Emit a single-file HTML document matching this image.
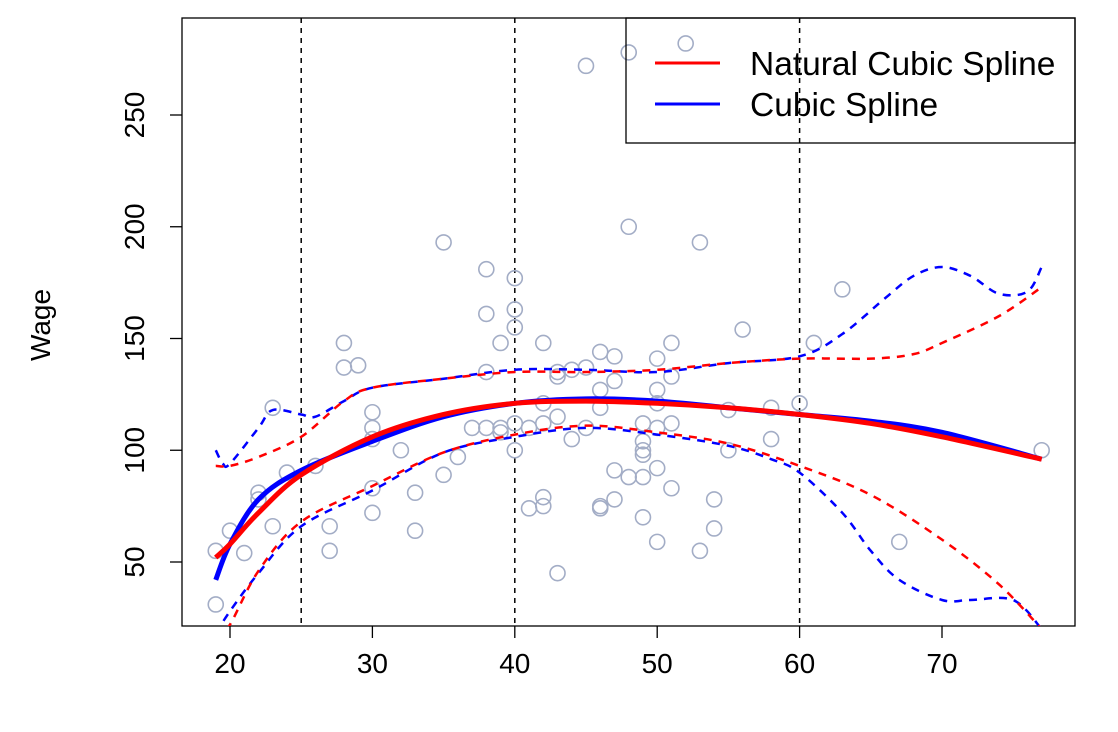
<!DOCTYPE html>
<html><head><meta charset="utf-8"><style>body{margin:0;background:#fff}svg{display:block;font-family:"Liberation Sans",sans-serif}</style></head>
<body>
<svg id="chart" width="1118" height="732">
<defs><clipPath id="clip"><rect x="182" y="18" width="893" height="608"/></clipPath></defs>
<rect x="182" y="18" width="893" height="608" fill="none" stroke="#000" stroke-width="1.3"/>
<g id="ax"></g><g id="pts" clip-path="url(#clip)"></g><g id="lines" clip-path="url(#clip)"></g>
<text transform="translate(50,325) rotate(-90)" text-anchor="middle" font-size="28">Wage</text>
<g>
<rect x="626" y="18" width="449" height="125" fill="none" stroke="#000" stroke-width="1.3"/>
<line x1="655" y1="63" x2="720" y2="63" stroke="#f00" stroke-width="3"/>
<text x="750" y="75" font-size="33.5">Natural Cubic Spline</text>
<line x1="655" y1="104" x2="720" y2="104" stroke="#00f" stroke-width="3"/>
<text x="750" y="116" font-size="33.5">Cubic Spline</text>
</g>
</svg>
<script>
const xTicks=[20,30,40,50,60,70];
const yTicks=[50,100,150,200,250];
const knots=[25,40,60];
const ages=[19,19,20,21,22,22,23,23,24,26,27,27,28,28,29,30,30,30,30,30,32,33,33,35,35,36,37,38,38,38,38,39,39,39,40,40,40,40,40,41,41,42,42,42,42,42,43,43,43,43,44,44,45,45,45,46,46,46,46,46,47,47,47,47,48,48,48,49,49,49,49,49,49,50,50,50,50,50,50,51,51,51,51,52,53,53,54,54,55,55,56,58,58,60,61,63,67,77];
const wages=[55,31,64,54,81,78,119,66,90,93,66,55,148,137,138,117,110,105,83,72,100,81,64,193,89,97,110,181,161,135,110,148,110,108,177,163,155,112,100,110,74,148,121,112,79,75,133,135,115,45,136,105,272,137,110,144,127,119,75,74,142,131,91,78,278,200,88,112,104,100,98,88,70,141,127,121,110,92,59,148,133,112,83,282,193,55,78,65,118,100,154,119,105,121,148,172,59,100];
const natX=[19,20,22,25,30,35,40,45,50,55,60,65,70,77];
const natFit=[52,58,72,89,106,116,121,122,121,119,116,112,106,96];
const cubX=[19,20,22,25,30,35,40,45,50,55,60,65,70,77];
const cubFit=[42,58,78,91,104,115,121,123,122,119,116,113,108,96];
const natUpX=[19,20,22,25,28,30,35,40,45,50,55,60,65,68,70,74,77];
const natUp=[93,93,97,106,122,128,132,135,135,136,139,141,141,143,148,160,173];
const natLoX=[19,20,22,25,30,35,40,45,50,55,60,65,70,74,77];
const natLo=[15,22,46,68,84,99,107,111,108,103,93,80,60,40,20];
const cubUpX=[19,19.5,20,22,23,25,26,28,30,35,40,45,50,55,60,63,66,68,70,72,74,76,77];
const cubUp=[100,94,94,110,118,116,115,122,128,132,136,136,135,139,142,152,168,178,182,178,170,171,182];
const cubLoX=[19,20,22,25,30,35,40,45,50,55,58,60,63,65,67,70,72,75,77];
const cubLo=[18,28,45,66,82,99,106,110,107,102,96,90,72,55,42,33,33,33,20];
const X=v=>230+(v-20)*14.24, Y=v=>562-(v-50)*2.235;
const NS='http://www.w3.org/2000/svg';
function mk(t,a,p){const e=document.createElementNS(NS,t);for(const k in a)e.setAttribute(k,a[k]);p.appendChild(e);return e;}
const ax=document.getElementById('ax');
xTicks.forEach(t=>{const l=mk('line',{x1:X(t),x2:X(t),y1:626,y2:638,stroke:'#000','stroke-width':1.3},ax);


const s=mk('text',{x:X(t),y:673,'text-anchor':'middle','font-size':28},ax);s.textContent=t;

});
yTicks.forEach(t=>{const l=mk('line',{x1:170,x2:182,y1:Y(t),y2:Y(t),stroke:'#000','stroke-width':1.3},ax);


const s=mk('text',{transform:`translate(144,${Y(t)}) rotate(-90)`,'text-anchor':'middle','font-size':28},ax);s.textContent=t;

});
knots.forEach(k=>{const l=mk('line',{x1:X(k),x2:X(k),y1:18,y2:626,stroke:'#000','stroke-width':1.5,'stroke-dasharray':'5,5'},ax);

});
const pts=document.getElementById('pts');
ages.forEach((a,i)=>{const c=mk('circle',{cx:X(a),cy:Y(wages[i]),r:7.5,fill:'none',stroke:'#a3adc6','stroke-width':1.6},pts);

});
function path(xs,ys){const p=xs.map((x,i)=>[X(x),Y(ys[i])]);let d=`M${p[0][0]},${p[0][1]}`;
for(let i=0;i<p.length-1;i++){const p0=p[i-1]||p[i],p1=p[i],p2=p[i+1],p3=p[i+2]||p2;
d+=` C${p1[0]+(p2[0]-p0[0])/6},${p1[1]+(p2[1]-p0[1])/6} ${p2[0]-(p3[0]-p1[0])/6},${p2[1]-(p3[1]-p1[1])/6} ${p2[0]},${p2[1]}`;}return d;}
const lg=document.getElementById('lines');
[[cubUpX,cubUp,'#00f',2.5,'8,7','cubic-upper-band'],[cubLoX,cubLo,'#00f',2.5,'8,7','cubic-lower-band'],
[natUpX,natUp,'#f00',2.5,'8,7','natural-upper-band'],[natLoX,natLo,'#f00',2.5,'8,7','natural-lower-band'],
[cubX,cubFit,'#00f',5,'','cubic-fit-line'],[natX,natFit,'#f00',5,'','natural-fit-line']].forEach(s=>{
const e=mk('path',{d:path(s[0],s[1]),fill:'none',stroke:s[2],'stroke-width':s[3],'stroke-dasharray':s[4]||'none'},lg);

});
</script>
</body></html>
